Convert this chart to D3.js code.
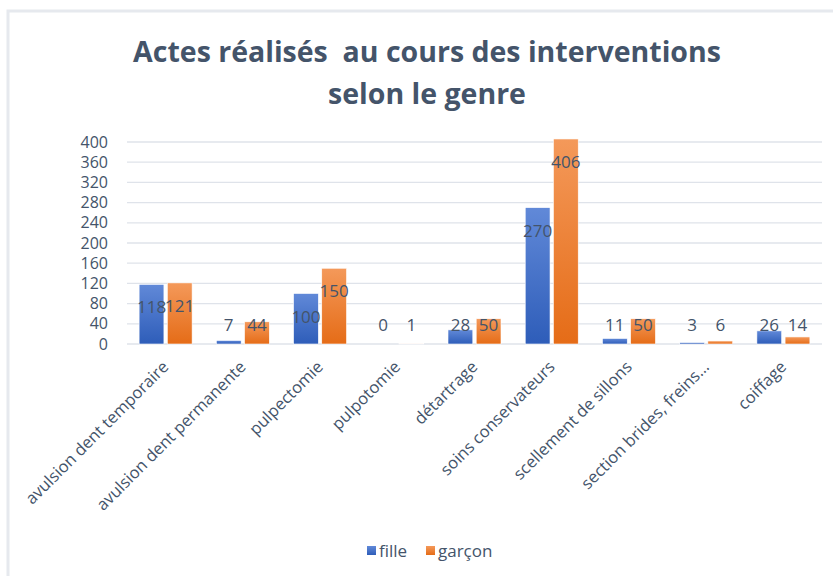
<!DOCTYPE html>
<html>
<head>
<meta charset="utf-8">
<script src="https://cdnjs.cloudflare.com/ajax/libs/d3/7.8.5/d3.min.js"></script>
<style>
  body { margin: 0; background: #fff; }
  svg text { font-family: "Open Sans", sans-serif; }
</style>
</head>
<body>
<div id="chart"></div>
<script>
// data
var categories = ["avulsion dent temporaire", "avulsion dent permanente", "pulpectomie",
  "pulpotomie", "détartrage", "soins conservateurs", "scellement de sillons",
  "section brides, freins…", "coiffage"];
var fille  = [118, 7, 100, 0, 28, 270, 11, 3, 26];
var garcon = [121, 44, 150, 1, 50, 406, 50, 6, 14];
var seriesNames = ["fille", "garçon"];
var yTicks = [0, 40, 80, 120, 160, 200, 240, 280, 320, 360, 400];

var W = 833, H = 576;
var margin = { left: 127, right: 11, top: 142, bottom: 232 };
var textCol = "#44546a";

var svg = d3.select("#chart").append("svg")
    .attr("width", W).attr("height", H);

// gradients for the bars
var defs = svg.append("defs");
var grads = [["gBlue", "#6189d8", "#2e5db9"], ["gOrange", "#f4995a", "#e56c17"]];
grads.forEach(function(g) {
  var lg = defs.append("linearGradient").attr("id", g[0])
      .attr("x1", 0).attr("y1", 0).attr("x2", 0).attr("y2", 1);
  lg.append("stop").attr("offset", "0%").attr("stop-color", g[1]);
  lg.append("stop").attr("offset", "100%").attr("stop-color", g[2]);
});

// chart frame
svg.append("path")
    .attr("d", "M8," + H + "V11H" + W)
    .attr("fill", "none").attr("stroke", "#e6e9ee").attr("stroke-width", 3);

// title
var title = svg.append("text")
    .attr("text-anchor", "middle")
    .style("white-space", "pre")
    .attr("font-size", 28.5).attr("font-weight", "bold").attr("fill", textCol);
title.append("tspan").attr("x", 427).attr("y", 62).text("Actes réalisés  au cours des interventions");
title.append("tspan").attr("x", 427).attr("y", 104).text("selon le genre");

var x0 = d3.scaleBand().domain(categories)
    .range([margin.left, W - margin.right]);
var x1 = d3.scaleBand().domain(seriesNames)
    .range([0, 53]).paddingInner(0.12);
var y = d3.scaleLinear().domain([0, 400])
    .range([H - margin.bottom, margin.top]);

// gridlines
svg.append("g").selectAll("line").data(yTicks).enter().append("line")
    .attr("x1", margin.left).attr("x2", W - margin.right)
    .attr("y1", function(d) { return y(d); }).attr("y2", function(d) { return y(d); })
    .attr("stroke", "#dfe3ea").attr("stroke-width", 1.3);

// y axis labels
var yAxis = d3.axisLeft(y).tickValues(yTicks).tickSize(0).tickPadding(0);
var ya = svg.append("g").attr("transform", "translate(108,0)").call(yAxis);
ya.select(".domain").remove();
ya.selectAll("text").attr("font-size", 16).attr("fill", textCol)
    .style("font-family", "'Open Sans', sans-serif");

var rows = categories.map(function(c, i) {
  return { cat: c, vals: [fille[i], garcon[i]] };
});
var fills = ["url(#gBlue)", "url(#gOrange)"];
var groupOff = (x0.bandwidth() - x1.range()[1]) / 2;

var groups = svg.append("g").selectAll("g").data(rows).enter().append("g")
    .attr("transform", function(d) { return "translate(" + (x0(d.cat) + groupOff) + ",0)"; });

groups.selectAll("rect").data(function(d) { return d.vals; }).enter().append("rect")
    .attr("x", function(d, i) { return x1(seriesNames[i]); })
    .attr("width", x1.bandwidth())
    .attr("y", function(d) { return y(d); })
    .attr("height", function(d) { return y(0) - y(d); })
    .attr("fill", function(d, i) { return fills[i]; })
    .attr("stroke", "#fff").attr("stroke-width", 0.6);

// value labels, inside end, pushed above axis for short bars
groups.selectAll("text").data(function(d) { return d.vals; }).enter().append("text")
    .attr("x", function(d, i) { return x1(seriesNames[i]) + x1.bandwidth() / 2; })
    .attr("y", function(d) { return Math.min(y(d) + 23, y(0) - 19) + 6; })
    .attr("text-anchor", "middle")
    .attr("font-size", 17).attr("fill", textCol)
    .text(function(d) { return d; });

// category labels
svg.append("g").selectAll("text").data(categories).enter().append("text")
    .attr("transform", function(d) {
      return "translate(" + (x0(d) + x0.bandwidth() / 2 + 4) + "," + (y(0) + 24) + ") rotate(-45)";
    })
    .attr("text-anchor", "end")
    .attr("font-size", 16.5).attr("fill", textCol)
    .text(function(d) { return d; });

// legend
var legend = svg.append("g").attr("transform", "translate(367,551)");
var lx = [0, 59];
seriesNames.forEach(function(s, i) {
  legend.append("rect").attr("x", lx[i]).attr("y", -5).attr("width", 9).attr("height", 9)
      .attr("fill", fills[i]);
  legend.append("text").attr("x", lx[i] + 12).attr("y", 6)
      .attr("font-size", 17).attr("fill", textCol).text(s);
});
</script>
</body>
</html>
